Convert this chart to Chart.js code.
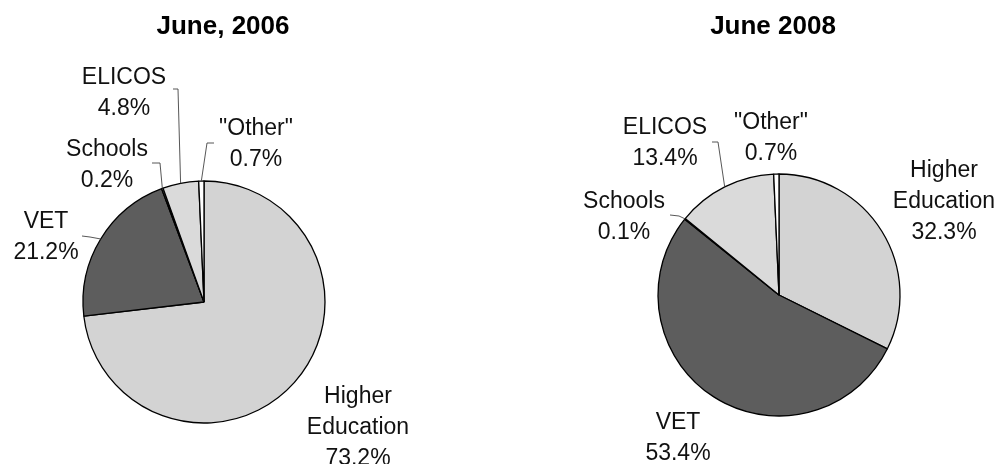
<!DOCTYPE html>
<html>
<head>
<meta charset="utf-8">
<script src="https://cdn.jsdelivr.net/npm/chart.js@4.4.1/dist/chart.umd.min.js"></script>
<style>
  html, body { margin: 0; padding: 0; background: #fff; }
  #wrap { position: relative; width: 1000px; height: 464px; overflow: hidden; }
  .box { position: absolute; top: 0; width: 500px; height: 464px; }
</style>
</head>
<body>
<div id="wrap">
  <div class="box" style="left:0"><canvas id="c1" width="500" height="464"></canvas></div>
  <div class="box" style="left:500px"><canvas id="c2" width="500" height="464"></canvas></div>
</div>
<script>
// ---- data ----
const categories = ['Higher Education', 'VET', 'Schools', 'ELICOS', '"Other"'];
const values2006 = [73.2, 21.2, 0.2, 4.8, 0.7];
const values2008 = [32.3, 53.4, 0.1, 13.4, 0.7];
const titles = ['June, 2006', 'June 2008'];
const sliceColors = ['#d3d3d3', '#5d5d5d', '#8a8a8a', '#dadada', '#ffffff'];

// ---- layout (label positions, leader elbows) ----
const layout2006 = {
  padding: { left: 83, right: 175, top: 181, bottom: 41 },
  titleX: 223,
  labels: [
    { x: 358, y: 395, leader: null },
    { x: 46, y: 220, leader: [[82, 236], [90, 237]] },
    { x: 107, y: 148, leader: [[152, 163], [160, 163]] },
    { x: 124, y: 76, leader: [[173, 89], [178, 89]] },
    { x: 256, y: 127, leader: [[214, 143], [207, 143]] }
  ]
};
const layout2008 = {
  padding: { left: 158, right: 100, top: 174, bottom: 48 },
  titleX: 273,
  labels: [
    { x: 444, y: 169, leader: null },
    { x: 178, y: 421, leader: null },
    { x: 124, y: 200, leader: [[170, 215], [179, 216]] },
    { x: 165, y: 126, leader: [[212, 142], [218, 142]] },
    { x: 271, y: 121, leader: null }
  ]
};

const labelFont = '23px "Liberation Sans", Arial, sans-serif';
const titleFont = 'bold 26px "Liberation Sans", Arial, sans-serif';

const labelPlugin = {
  id: 'pieLabels',
  afterDatasetsDraw(chart, args, opts) {
    const ctx = chart.ctx;
    const meta = chart.getDatasetMeta(0);
    const data = chart.data.datasets[0].data;
    ctx.save();
    ctx.font = titleFont;
    ctx.fillStyle = '#000';
    ctx.textAlign = 'center';
    ctx.textBaseline = 'alphabetic';
    ctx.fillText(opts.title, opts.layout.titleX, 34);
    ctx.font = labelFont;
    opts.layout.labels.forEach((lab, i) => {
      const name = chart.data.labels[i];
      const lines = (name === 'Higher Education' ? ['Higher', 'Education'] : [name]);
      lines.push(data[i].toFixed(1) + '%');
      ctx.fillStyle = '#111';
      lines.forEach((ln, k) => {
        ctx.fillText(ln, lab.x, lab.y + 8 + k * 31);
      });
      if (lab.leader) {
        const arc = meta.data[i];
        const p = arc.getProps(['x', 'y', 'startAngle', 'endAngle', 'outerRadius'], true);
        const mid = (p.startAngle + p.endAngle) / 2;
        const ex = p.x + Math.cos(mid) * p.outerRadius;
        const ey = p.y + Math.sin(mid) * p.outerRadius;
        ctx.beginPath();
        ctx.strokeStyle = '#444';
        ctx.lineWidth = 0.9;
        ctx.moveTo(lab.leader[0][0], lab.leader[0][1]);
        lab.leader.slice(1).forEach(pt => ctx.lineTo(pt[0], pt[1]));
        ctx.lineTo(ex, ey);
        ctx.stroke();
      }
    });
    ctx.restore();
  }
};

function makePie(id, values, layout, title) {
  return new Chart(document.getElementById(id), {
    type: 'pie',
    data: {
      labels: categories,
      datasets: [{
        data: values,
        backgroundColor: sliceColors,
        borderColor: '#000',
        borderWidth: 1.3,
        hoverOffset: 0,
        radius: 121
      }]
    },
    options: {
      responsive: false,
      animation: false,
      layout: { padding: layout.padding },
      plugins: {
        legend: { display: false },
        tooltip: { enabled: false },
        title: { display: false },
        pieLabels: { layout: layout, title: title }
      },
      events: []
    },
    plugins: [labelPlugin]
  });
}

makePie('c1', values2006, layout2006, titles[0]);
makePie('c2', values2008, layout2008, titles[1]);
</script>
</body>
</html>
